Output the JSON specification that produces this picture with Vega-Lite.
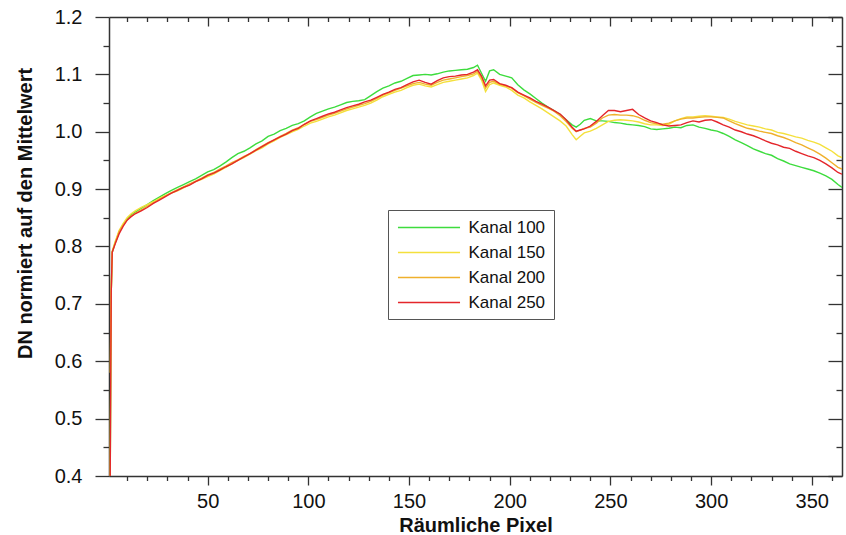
{
 "$schema": "https://vega.github.io/schema/vega-lite/v6.json",
 "width": 733, "height": 459,
 "autosize": {"type": "none"},
 "padding": {"left": 109, "top": 17, "right": 4, "bottom": 59},
 "background": "white",
 "config": {"view": {"stroke": null}, "font": "Liberation Sans",
   "axis": {"grid": false, "domainColor": "#333", "domainWidth": 1.5, "tickColor": "#333", "tickWidth": 1.3, "labelColor": "#111", "titleColor": "#111", "labelFont": "Liberation Sans", "titleFont": "Liberation Sans"}},
 "data": {"values": [
  {"x":1.6,"Kanal 100":0.400,"Kanal 150":0.400,"Kanal 200":0.580,"Kanal 250":0.400},
  {"x":2.1,"Kanal 100":0.720,"Kanal 150":0.720,"Kanal 200":0.720,"Kanal 250":0.720},
  {"x":2.6,"Kanal 100":0.790,"Kanal 150":0.792,"Kanal 200":0.790,"Kanal 250":0.790},
  {"x":4,"Kanal 100":0.806,"Kanal 150":0.808,"Kanal 200":0.805,"Kanal 250":0.804},
  {"x":6,"Kanal 100":0.824,"Kanal 150":0.828,"Kanal 200":0.826,"Kanal 250":0.822},
  {"x":8,"Kanal 100":0.838,"Kanal 150":0.840,"Kanal 200":0.837,"Kanal 250":0.835},
  {"x":10,"Kanal 100":0.848,"Kanal 150":0.850,"Kanal 200":0.846,"Kanal 250":0.846},
  {"x":12,"Kanal 100":0.855,"Kanal 150":0.857,"Kanal 200":0.853,"Kanal 250":0.852},
  {"x":14,"Kanal 100":0.860,"Kanal 150":0.862,"Kanal 200":0.858,"Kanal 250":0.857},
  {"x":17,"Kanal 100":0.867,"Kanal 150":0.868,"Kanal 200":0.864,"Kanal 250":0.862},
  {"x":20,"Kanal 100":0.873,"Kanal 150":0.873,"Kanal 200":0.870,"Kanal 250":0.868},
  {"x":23,"Kanal 100":0.880,"Kanal 150":0.878,"Kanal 200":0.876,"Kanal 250":0.875},
  {"x":26,"Kanal 100":0.886,"Kanal 150":0.884,"Kanal 200":0.882,"Kanal 250":0.881},
  {"x":29,"Kanal 100":0.892,"Kanal 150":0.889,"Kanal 200":0.888,"Kanal 250":0.887},
  {"x":32,"Kanal 100":0.898,"Kanal 150":0.893,"Kanal 200":0.894,"Kanal 250":0.893},
  {"x":35,"Kanal 100":0.903,"Kanal 150":0.897,"Kanal 200":0.899,"Kanal 250":0.898},
  {"x":38,"Kanal 100":0.908,"Kanal 150":0.902,"Kanal 200":0.904,"Kanal 250":0.903},
  {"x":41,"Kanal 100":0.913,"Kanal 150":0.908,"Kanal 200":0.909,"Kanal 250":0.907},
  {"x":44,"Kanal 100":0.918,"Kanal 150":0.913,"Kanal 200":0.914,"Kanal 250":0.913},
  {"x":47,"Kanal 100":0.924,"Kanal 150":0.917,"Kanal 200":0.919,"Kanal 250":0.918},
  {"x":50,"Kanal 100":0.930,"Kanal 150":0.922,"Kanal 200":0.925,"Kanal 250":0.924},
  {"x":53,"Kanal 100":0.934,"Kanal 150":0.926,"Kanal 200":0.929,"Kanal 250":0.928},
  {"x":56,"Kanal 100":0.940,"Kanal 150":0.932,"Kanal 200":0.935,"Kanal 250":0.933},
  {"x":59,"Kanal 100":0.947,"Kanal 150":0.938,"Kanal 200":0.940,"Kanal 250":0.939},
  {"x":62,"Kanal 100":0.955,"Kanal 150":0.944,"Kanal 200":0.946,"Kanal 250":0.944},
  {"x":65,"Kanal 100":0.962,"Kanal 150":0.950,"Kanal 200":0.951,"Kanal 250":0.950},
  {"x":68,"Kanal 100":0.966,"Kanal 150":0.955,"Kanal 200":0.957,"Kanal 250":0.956},
  {"x":71,"Kanal 100":0.972,"Kanal 150":0.961,"Kanal 200":0.962,"Kanal 250":0.962},
  {"x":74,"Kanal 100":0.979,"Kanal 150":0.967,"Kanal 200":0.969,"Kanal 250":0.968},
  {"x":77,"Kanal 100":0.984,"Kanal 150":0.972,"Kanal 200":0.975,"Kanal 250":0.974},
  {"x":80,"Kanal 100":0.992,"Kanal 150":0.979,"Kanal 200":0.981,"Kanal 250":0.980},
  {"x":83,"Kanal 100":0.996,"Kanal 150":0.984,"Kanal 200":0.986,"Kanal 250":0.986},
  {"x":86,"Kanal 100":1.002,"Kanal 150":0.990,"Kanal 200":0.992,"Kanal 250":0.991},
  {"x":89,"Kanal 100":1.006,"Kanal 150":0.995,"Kanal 200":0.997,"Kanal 250":0.996},
  {"x":92,"Kanal 100":1.011,"Kanal 150":1.000,"Kanal 200":1.003,"Kanal 250":1.002},
  {"x":95,"Kanal 100":1.014,"Kanal 150":1.004,"Kanal 200":1.007,"Kanal 250":1.006},
  {"x":98,"Kanal 100":1.019,"Kanal 150":1.010,"Kanal 200":1.013,"Kanal 250":1.013},
  {"x":101,"Kanal 100":1.026,"Kanal 150":1.015,"Kanal 200":1.018,"Kanal 250":1.019},
  {"x":104,"Kanal 100":1.032,"Kanal 150":1.018,"Kanal 200":1.021,"Kanal 250":1.023},
  {"x":107,"Kanal 100":1.036,"Kanal 150":1.022,"Kanal 200":1.025,"Kanal 250":1.027},
  {"x":110,"Kanal 100":1.040,"Kanal 150":1.026,"Kanal 200":1.029,"Kanal 250":1.031},
  {"x":113,"Kanal 100":1.043,"Kanal 150":1.029,"Kanal 200":1.032,"Kanal 250":1.034},
  {"x":116,"Kanal 100":1.047,"Kanal 150":1.033,"Kanal 200":1.036,"Kanal 250":1.038},
  {"x":119,"Kanal 100":1.051,"Kanal 150":1.037,"Kanal 200":1.040,"Kanal 250":1.042},
  {"x":122,"Kanal 100":1.053,"Kanal 150":1.040,"Kanal 200":1.043,"Kanal 250":1.045},
  {"x":125,"Kanal 100":1.054,"Kanal 150":1.043,"Kanal 200":1.046,"Kanal 250":1.048},
  {"x":128,"Kanal 100":1.056,"Kanal 150":1.046,"Kanal 200":1.049,"Kanal 250":1.052},
  {"x":131,"Kanal 100":1.063,"Kanal 150":1.050,"Kanal 200":1.053,"Kanal 250":1.055},
  {"x":134,"Kanal 100":1.070,"Kanal 150":1.055,"Kanal 200":1.058,"Kanal 250":1.060},
  {"x":137,"Kanal 100":1.076,"Kanal 150":1.061,"Kanal 200":1.064,"Kanal 250":1.065},
  {"x":140,"Kanal 100":1.080,"Kanal 150":1.065,"Kanal 200":1.068,"Kanal 250":1.069},
  {"x":143,"Kanal 100":1.085,"Kanal 150":1.069,"Kanal 200":1.072,"Kanal 250":1.074},
  {"x":146,"Kanal 100":1.088,"Kanal 150":1.072,"Kanal 200":1.076,"Kanal 250":1.077},
  {"x":149,"Kanal 100":1.093,"Kanal 150":1.077,"Kanal 200":1.080,"Kanal 250":1.082},
  {"x":152,"Kanal 100":1.098,"Kanal 150":1.081,"Kanal 200":1.084,"Kanal 250":1.087},
  {"x":155,"Kanal 100":1.099,"Kanal 150":1.083,"Kanal 200":1.086,"Kanal 250":1.090},
  {"x":158,"Kanal 100":1.100,"Kanal 150":1.080,"Kanal 200":1.083,"Kanal 250":1.086},
  {"x":161,"Kanal 100":1.099,"Kanal 150":1.078,"Kanal 200":1.081,"Kanal 250":1.083},
  {"x":164,"Kanal 100":1.101,"Kanal 150":1.082,"Kanal 200":1.086,"Kanal 250":1.089},
  {"x":167,"Kanal 100":1.104,"Kanal 150":1.086,"Kanal 200":1.090,"Kanal 250":1.094},
  {"x":170,"Kanal 100":1.106,"Kanal 150":1.088,"Kanal 200":1.092,"Kanal 250":1.096},
  {"x":173,"Kanal 100":1.107,"Kanal 150":1.090,"Kanal 200":1.094,"Kanal 250":1.097},
  {"x":176,"Kanal 100":1.108,"Kanal 150":1.092,"Kanal 200":1.096,"Kanal 250":1.099},
  {"x":179,"Kanal 100":1.109,"Kanal 150":1.094,"Kanal 200":1.098,"Kanal 250":1.100},
  {"x":182,"Kanal 100":1.112,"Kanal 150":1.098,"Kanal 200":1.101,"Kanal 250":1.104},
  {"x":184,"Kanal 100":1.116,"Kanal 150":1.102,"Kanal 200":1.105,"Kanal 250":1.108},
  {"x":186,"Kanal 100":1.102,"Kanal 150":1.090,"Kanal 200":1.094,"Kanal 250":1.097},
  {"x":188,"Kanal 100":1.088,"Kanal 150":1.070,"Kanal 200":1.076,"Kanal 250":1.080},
  {"x":190,"Kanal 100":1.106,"Kanal 150":1.082,"Kanal 200":1.086,"Kanal 250":1.090},
  {"x":192,"Kanal 100":1.108,"Kanal 150":1.085,"Kanal 200":1.088,"Kanal 250":1.091},
  {"x":195,"Kanal 100":1.100,"Kanal 150":1.081,"Kanal 200":1.083,"Kanal 250":1.084},
  {"x":198,"Kanal 100":1.097,"Kanal 150":1.078,"Kanal 200":1.080,"Kanal 250":1.081},
  {"x":201,"Kanal 100":1.094,"Kanal 150":1.072,"Kanal 200":1.076,"Kanal 250":1.077},
  {"x":204,"Kanal 100":1.082,"Kanal 150":1.064,"Kanal 200":1.068,"Kanal 250":1.069},
  {"x":207,"Kanal 100":1.073,"Kanal 150":1.059,"Kanal 200":1.063,"Kanal 250":1.064},
  {"x":210,"Kanal 100":1.066,"Kanal 150":1.052,"Kanal 200":1.057,"Kanal 250":1.059},
  {"x":213,"Kanal 100":1.058,"Kanal 150":1.046,"Kanal 200":1.051,"Kanal 250":1.053},
  {"x":216,"Kanal 100":1.050,"Kanal 150":1.040,"Kanal 200":1.046,"Kanal 250":1.048},
  {"x":219,"Kanal 100":1.043,"Kanal 150":1.033,"Kanal 200":1.041,"Kanal 250":1.043},
  {"x":222,"Kanal 100":1.037,"Kanal 150":1.026,"Kanal 200":1.036,"Kanal 250":1.037},
  {"x":225,"Kanal 100":1.030,"Kanal 150":1.019,"Kanal 200":1.028,"Kanal 250":1.031},
  {"x":228,"Kanal 100":1.021,"Kanal 150":1.010,"Kanal 200":1.018,"Kanal 250":1.021},
  {"x":231,"Kanal 100":1.012,"Kanal 150":0.995,"Kanal 200":1.006,"Kanal 250":1.008},
  {"x":233,"Kanal 100":1.008,"Kanal 150":0.986,"Kanal 200":1.000,"Kanal 250":1.001},
  {"x":235,"Kanal 100":1.013,"Kanal 150":0.992,"Kanal 200":1.003,"Kanal 250":1.003},
  {"x":237,"Kanal 100":1.020,"Kanal 150":0.998,"Kanal 200":1.006,"Kanal 250":1.005},
  {"x":240,"Kanal 100":1.023,"Kanal 150":1.001,"Kanal 200":1.008,"Kanal 250":1.010},
  {"x":243,"Kanal 100":1.019,"Kanal 150":1.006,"Kanal 200":1.015,"Kanal 250":1.018},
  {"x":246,"Kanal 100":1.019,"Kanal 150":1.012,"Kanal 200":1.024,"Kanal 250":1.028},
  {"x":249,"Kanal 100":1.018,"Kanal 150":1.018,"Kanal 200":1.029,"Kanal 250":1.037},
  {"x":252,"Kanal 100":1.016,"Kanal 150":1.020,"Kanal 200":1.030,"Kanal 250":1.037},
  {"x":255,"Kanal 100":1.015,"Kanal 150":1.021,"Kanal 200":1.029,"Kanal 250":1.035},
  {"x":258,"Kanal 100":1.013,"Kanal 150":1.020,"Kanal 200":1.029,"Kanal 250":1.037},
  {"x":261,"Kanal 100":1.012,"Kanal 150":1.019,"Kanal 200":1.028,"Kanal 250":1.039},
  {"x":264,"Kanal 100":1.011,"Kanal 150":1.017,"Kanal 200":1.025,"Kanal 250":1.030},
  {"x":267,"Kanal 100":1.009,"Kanal 150":1.014,"Kanal 200":1.020,"Kanal 250":1.024},
  {"x":270,"Kanal 100":1.005,"Kanal 150":1.012,"Kanal 200":1.016,"Kanal 250":1.019},
  {"x":273,"Kanal 100":1.004,"Kanal 150":1.012,"Kanal 200":1.014,"Kanal 250":1.016},
  {"x":276,"Kanal 100":1.005,"Kanal 150":1.011,"Kanal 200":1.013,"Kanal 250":1.012},
  {"x":279,"Kanal 100":1.006,"Kanal 150":1.013,"Kanal 200":1.015,"Kanal 250":1.010},
  {"x":282,"Kanal 100":1.008,"Kanal 150":1.019,"Kanal 200":1.019,"Kanal 250":1.011},
  {"x":285,"Kanal 100":1.007,"Kanal 150":1.023,"Kanal 200":1.022,"Kanal 250":1.012},
  {"x":288,"Kanal 100":1.011,"Kanal 150":1.026,"Kanal 200":1.024,"Kanal 250":1.016},
  {"x":291,"Kanal 100":1.012,"Kanal 150":1.026,"Kanal 200":1.024,"Kanal 250":1.019},
  {"x":294,"Kanal 100":1.008,"Kanal 150":1.027,"Kanal 200":1.025,"Kanal 250":1.017},
  {"x":297,"Kanal 100":1.006,"Kanal 150":1.028,"Kanal 200":1.026,"Kanal 250":1.020},
  {"x":300,"Kanal 100":1.003,"Kanal 150":1.027,"Kanal 200":1.026,"Kanal 250":1.021},
  {"x":303,"Kanal 100":1.001,"Kanal 150":1.026,"Kanal 200":1.025,"Kanal 250":1.017},
  {"x":306,"Kanal 100":0.997,"Kanal 150":1.025,"Kanal 200":1.024,"Kanal 250":1.012},
  {"x":309,"Kanal 100":0.992,"Kanal 150":1.022,"Kanal 200":1.019,"Kanal 250":1.008},
  {"x":312,"Kanal 100":0.986,"Kanal 150":1.018,"Kanal 200":1.014,"Kanal 250":1.003},
  {"x":315,"Kanal 100":0.981,"Kanal 150":1.015,"Kanal 200":1.010,"Kanal 250":1.000},
  {"x":318,"Kanal 100":0.976,"Kanal 150":1.012,"Kanal 200":1.006,"Kanal 250":0.996},
  {"x":321,"Kanal 100":0.970,"Kanal 150":1.010,"Kanal 200":1.004,"Kanal 250":0.993},
  {"x":324,"Kanal 100":0.966,"Kanal 150":1.008,"Kanal 200":1.001,"Kanal 250":0.989},
  {"x":327,"Kanal 100":0.962,"Kanal 150":1.005,"Kanal 200":0.999,"Kanal 250":0.984},
  {"x":330,"Kanal 100":0.959,"Kanal 150":1.003,"Kanal 200":0.997,"Kanal 250":0.980},
  {"x":333,"Kanal 100":0.953,"Kanal 150":0.999,"Kanal 200":0.993,"Kanal 250":0.977},
  {"x":336,"Kanal 100":0.949,"Kanal 150":0.997,"Kanal 200":0.990,"Kanal 250":0.973},
  {"x":339,"Kanal 100":0.944,"Kanal 150":0.994,"Kanal 200":0.986,"Kanal 250":0.971},
  {"x":342,"Kanal 100":0.941,"Kanal 150":0.991,"Kanal 200":0.981,"Kanal 250":0.966},
  {"x":345,"Kanal 100":0.938,"Kanal 150":0.989,"Kanal 200":0.977,"Kanal 250":0.962},
  {"x":348,"Kanal 100":0.935,"Kanal 150":0.985,"Kanal 200":0.972,"Kanal 250":0.958},
  {"x":351,"Kanal 100":0.932,"Kanal 150":0.982,"Kanal 200":0.967,"Kanal 250":0.955},
  {"x":354,"Kanal 100":0.928,"Kanal 150":0.978,"Kanal 200":0.961,"Kanal 250":0.950},
  {"x":357,"Kanal 100":0.923,"Kanal 150":0.972,"Kanal 200":0.954,"Kanal 250":0.944},
  {"x":360,"Kanal 100":0.917,"Kanal 150":0.966,"Kanal 200":0.946,"Kanal 250":0.937},
  {"x":363,"Kanal 100":0.908,"Kanal 150":0.958,"Kanal 200":0.938,"Kanal 250":0.929},
  {"x":365,"Kanal 100":0.903,"Kanal 150":0.955,"Kanal 200":0.935,"Kanal 250":0.926}
 ]},
 "transform": [{"fold": ["Kanal 100", "Kanal 150", "Kanal 200", "Kanal 250"], "as": ["Kanal", "DN"]}],
 "layer": [
  {
   "mark": {"type": "point", "opacity": 0},
   "encoding": {
    "x": {"field": "x", "type": "quantitative", "scale": {"domain": [1, 365], "nice": false, "zero": false},
      "axis": {"orient": "top", "title": null, "labels": false,
        "values": [10,20,30,40,50,60,70,80,90,100,110,120,130,140,150,160,170,180,190,200,210,220,230,240,250,260,270,280,290,300,310,320,330,340,350,360],
        "tickSize": {"condition": {"test": "datum.value % 50 === 0", "value": -9}, "value": -4.5}}},
    "y": {"field": "DN", "type": "quantitative", "scale": {"domain": [0.4, 1.2], "nice": false, "zero": false},
      "axis": {"orient": "right", "title": null, "labels": false,
        "values": [0.4,0.45,0.5,0.55,0.6,0.65,0.7,0.75,0.8,0.85,0.9,0.95,1,1.05,1.1,1.15,1.2],
        "tickSize": {"condition": {"test": "abs(datum.value*10 - round(datum.value*10)) < 0.000001", "value": -14}, "value": -6}}}
   }
  },
  {
   "mark": {"type": "line", "strokeWidth": 1.4, "clip": true},
   "encoding": {
    "x": {"field": "x", "type": "quantitative", "scale": {"domain": [1, 365], "nice": false, "zero": false},
      "axis": {"orient": "bottom", "title": "Räumliche Pixel", "titleFontSize": 20, "titleFontWeight": "bold", "titlePadding": 4,
        "labelFontSize": 20, "labelPadding": 6,
        "values": [10,20,30,40,50,60,70,80,90,100,110,120,130,140,150,160,170,180,190,200,210,220,230,240,250,260,270,280,290,300,310,320,330,340,350,360],
        "labelExpr": "datum.value % 50 === 0 ? datum.label : ''",
        "tickSize": {"condition": {"test": "datum.value % 50 === 0", "value": 9}, "value": 4.5}}},
    "y": {"field": "DN", "type": "quantitative", "scale": {"domain": [0.4, 1.2], "nice": false, "zero": false},
      "axis": {"orient": "left", "title": "DN normiert auf den Mittelwert", "titleFontSize": 20, "titleFontWeight": "bold",
        "titleX": -74, "titleY": 196, "titleBaseline": "bottom", "titleAlign": "center", "titleAngle": 270,
        "labelFontSize": 20, "labelPadding": 13,
        "values": [0.4,0.45,0.5,0.55,0.6,0.65,0.7,0.75,0.8,0.85,0.9,0.95,1,1.05,1.1,1.15,1.2],
        "labelExpr": "abs(datum.value*10 - round(datum.value*10)) < 0.000001 ? format(datum.value, '.1f') : ''",
        "tickSize": {"condition": {"test": "abs(datum.value*10 - round(datum.value*10)) < 0.000001", "value": 14}, "value": 6}}},
    "color": {"field": "Kanal", "type": "nominal",
      "scale": {"domain": ["Kanal 100", "Kanal 150", "Kanal 200", "Kanal 250"], "range": ["#3ddc3d", "#f4e03c", "#efb02c", "#e4262b"]},
      "legend": {"orient": "none", "legendX": 279, "legendY": 193, "title": null,
        "symbolType": "M-3.65,0H3.65", "symbolSize": 289, "symbolStrokeWidth": 1.5, "symbolOffset": 23.5,
        "labelFontSize": 17, "labelFont": "Liberation Sans", "labelColor": "#111", "labelOffset": 30,
        "padding": 8, "rowPadding": 7, "strokeColor": "#555", "fillColor": "white"}}
   }
  }
 ],
 "resolve": {"axis": {"x": "independent", "y": "independent"}}
}
